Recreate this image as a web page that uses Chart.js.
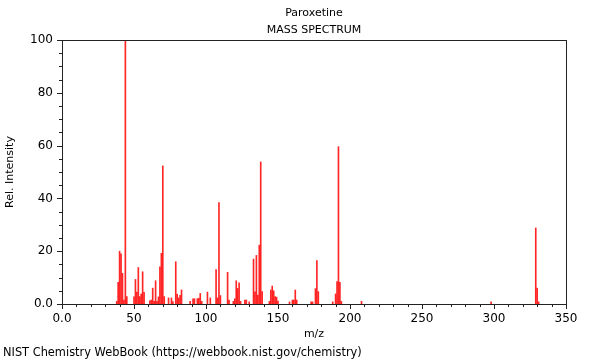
<!DOCTYPE html>
<html>
<head>
<meta charset="utf-8">
<script src="https://cdn.jsdelivr.net/npm/chart.js@4"></script>
<style>
  html, body { margin: 0; padding: 0; background: #fff; }
  #box { width: 600px; height: 360px; }
</style>
</head>
<body>
<div id="box"><canvas id="spectrum"></canvas></div>
<script>
// peaks
var mz = [38,39,40,41,42,43,44,45,
  50,51,52,53,54,55,56,57,
  61,62,63,64,65,66,67,68,69,70,71,
  74,76,77,79,80,81,82,83,
  89,91,92,94,95,96,97,
  101,103,107,108,109,110,
  115,116,119,120,121,122,123,124,127,128,130,
  133,134,135,136,137,138,139,
  144,145,146,147,148,149,150,
  158,160,161,162,163,
  173,174,176,177,178,
  188,190,191,192,193,194,
  208,298,329,330,331];
var intensity = [1,8.2,20,19,11.6,1.5,100,2.8,
  2.7,9.3,4.5,13.8,2.8,3.8,12.2,4.4,
  1.2,1.5,6,1,8.8,1,2.7,14.1,19.2,52.3,2.8,
  2.3,2.3,0.9,16,3.7,2.3,3.3,5.3,
  1,2,2,2,2.2,4,1,
  4.5,2.3,13,2.3,38.4,3.2,
  12,1.5,1,2,8.8,5.9,8,1,1.5,1.5,0.8,
  17,4.6,18.4,3.4,22.3,53.8,4.7,
  1,5.3,6.8,5,2.8,2.6,1.1,
  0.8,1.5,1.5,5.3,1.5,
  0.8,0.8,5.8,16.4,4.7,
  0.8,3.8,8.5,59.6,8.2,1,
  1,0.8,28.8,6,0.8];

var titleLines = ["Paroxetine", "MASS SPECTRUM"];
var footer = "NIST Chemistry WebBook (https://webbook.nist.gov/chemistry)";

Chart.defaults.font.family = "'DejaVu Sans', sans-serif";
Chart.defaults.font.size = 11;
Chart.defaults.color = "#000";

// frame, minor/major ticks, titles and footer
var decor = {
  id: 'decor',
  afterDraw: function(chart) {
    var ctx = chart.ctx, a = chart.chartArea;
    var x = chart.scales.x, y = chart.scales.y;
    ctx.save();
    ctx.strokeStyle = '#222';
    ctx.lineWidth = 1;
    ctx.beginPath();
    ctx.moveTo(a.left, a.top + 0.5);
    ctx.lineTo(a.right, a.top + 0.5);
    ctx.moveTo(a.right + 0.5, a.top);
    ctx.lineTo(a.right + 0.5, a.bottom);
    for (var v = 0; v <= 350; v += 10) {
      var px = Math.round(x.getPixelForValue(v)) + 0.5;
      var len = v % 50 === 0 ? 5 : 3;
      ctx.moveTo(px, a.bottom);
      ctx.lineTo(px, a.bottom + len);
    }
    for (var w = 0; w <= 100; w += 5) {
      var py = Math.round(y.getPixelForValue(w)) + 0.5;
      var l2 = w % 20 === 0 ? 5 : 3;
      ctx.moveTo(a.left, py);
      ctx.lineTo(a.left - l2, py);
    }
    ctx.stroke();

    ctx.fillStyle = '#000';
    ctx.font = "11px 'DejaVu Sans'";
    ctx.textAlign = 'center';
    ctx.textBaseline = 'middle';
    var cx = (a.left + a.right) / 2;
    ctx.fillText(titleLines[0], cx, 13);
    ctx.fillText(titleLines[1], cx, 30);
    ctx.font = "11.4px 'DejaVu Sans'";
    ctx.textAlign = 'left';
    ctx.fillText(footer, 3, 353);
    ctx.restore();
  }
};

new Chart(document.getElementById('spectrum'), {
  type: 'bar',
  data: {
    datasets: [{
      data: mz.map(function(m, i) { return {x: m, y: intensity[i]}; }),
      backgroundColor: 'rgba(255,0,0,0.85)',
      borderWidth: 0,
      barThickness: 1
    }]
  },
  options: {
    responsive: true,
    maintainAspectRatio: false,
    animation: false,
    layout: { padding: { top: 40, left: 0, right: 34, bottom: 0 } },
    plugins: { legend: { display: false }, tooltip: { enabled: false } },
    scales: {
      x: {
        type: 'linear',
        offset: false,
        min: 0, max: 350,
        grid: { display: false, drawTicks: false },
        border: { display: true, color: '#222' },
        ticks: {
          stepSize: 10, autoSkip: false, maxRotation: 0, padding: 8,
          font: { size: 12 },
          callback: function(v) { return v === 0 ? '0.0' : (v % 50 === 0 ? v : ''); }
        },
        title: { display: true, text: 'm/z', padding: { top: 0, bottom: 19 } },
        afterFit: function(s) { s.height = 56; }
      },
      y: {
        min: 0, max: 100,
        grid: { display: false, drawTicks: false },
        border: { display: true, color: '#222' },
        ticks: {
          stepSize: 5, autoSkip: false, padding: 9,
          font: { size: 12 },
          callback: function(v) { return v === 0 ? '0.0' : (v % 20 === 0 ? v : ''); }
        },
        title: { display: true, text: 'Rel. Intensity', padding: { top: 4, bottom: 0 } },
        afterFit: function(s) { s.width = 62; }
      }
    }
  },
  plugins: [decor]
});
</script>
</body>
</html>
